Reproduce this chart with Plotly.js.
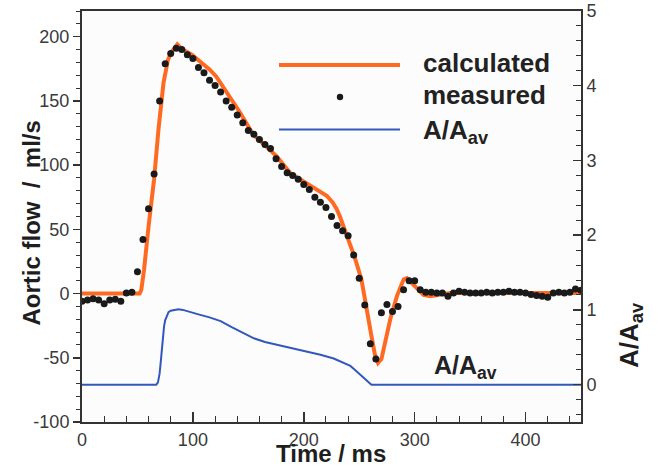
<!DOCTYPE html>
<html>
<head>
<meta charset="utf-8">
<script src="https://cdn.plot.ly/plotly-3.0.1.min.js"></script>
<style>html,body{margin:0;padding:0;background:#fff;}#chart{width:667px;height:466px;}</style>
</head>
<body>
<div id="chart"></div>
<script>
// Measured aortic flow (ml/s)
const measTime = [0,5,10,15,20,25,30,35,40,45,50,55,60,65,70,75,80,85,90,95,100,105,110,115,120,125,130,135,140,145,150,155,160,165,170,175,180,185,190,195,200,205,210,215,220,225,230,235,240,245,250,255,260,265,270,275,280,285,290,295,300,305,310,315,320,325,330,335,340,345,350,355,360,365,370,375,380,385,390,395,400,405,410,415,420,425,430,435,440,445,450];
const measFlow = [-6,-5,-4,-5,-8,-5,-4.5,-6,0.5,1,17,42,66,93,150,179,187,191,190,186,183,176,172,166,162,157,150,145,139,133,127,124,120,116,113,105,99,94,92,89,85,81,75,71,67,60,53,49,45,30,12,-9,-39,-51,-15,-8.6,-14,-10,3,10,10,3,1,1,0.5,0.5,-2,0.5,1.8,1,0.5,0.5,0.5,1,0.5,1,1,1.8,1,1,0.5,-0.8,-1.6,-2.1,-2.9,0.5,1,0.5,1,3.6,2.6];

// Calculated aortic flow (ml/s)
const calcTime = [0,52,53.5,56,60,65,69,73.5,77.5,81,86,90,99,108,115,121,127,133,142.5,154.5,166.5,175.6,187.6,202.6,214.6,221,226,229.5,232.6,236,241,246,252,256.7,261,264,267,270,273,278,284,290,293,299,304,308,314,323,332,450];
const calcFlow = [0,0,3,19,52,89,128,164,182,188.5,194,190.5,186,179.5,174.5,169,161.5,154,141,123.7,114.6,106.8,94,86,79.6,76,71,66,60,52,39.5,28,11,-10,-33,-47,-54,-51,-40,-20,-2,11,12,7,2,-1,-2,-1,0.5,0.5];

// Normalised area A/A_av (right axis)
const areaTime = [0,67,68.5,70,71,72,73,74,75,76.5,78,80,83,87,91,95,105,115,125,135,145,155,165,180,200,215,227,235,242,246,249,252,255,258,261,450];
const areaRatio = [0,0,0.03,0.15,0.3,0.48,0.65,0.78,0.86,0.93,0.97,0.99,1.0,1.01,1.0,0.98,0.94,0.9,0.85,0.77,0.69,0.62,0.57,0.52,0.45,0.40,0.35,0.30,0.25,0.2,0.16,0.12,0.08,0.04,0,0];

const flowTicks = [-100,-50,0,50,100,150,200];
const flowTickText = ['-100','-50','0','50','100','150','200'];
const legendLabels = ['calculated', 'measured', 'A/A<sub>av</sub>'];
const xTitle = 'Time / ms';
const yTitle = 'Aortic flow\u00a0\u00a0/\u00a0\u00a0ml/s';
const y2Title = 'A/A<sub>av</sub>';

const ORANGE = '#ff6a22';
const BLUE = '#3358bd';
const AXC = '#333333';
const FONT = 'Liberation Sans, Arial, Helvetica, sans-serif';

const traces = [
  {x: areaTime, y: areaRatio, yaxis: 'y2', type: 'scatter', mode: 'lines',
   line: {color: BLUE, width: 2, shape: 'linear'}, name: 'A/A_av', hoverinfo: 'skip'},
  {x: calcTime, y: calcFlow, type: 'scatter', mode: 'lines',
   line: {color: ORANGE, width: 4, shape: 'linear'}, name: 'calculated'},
  {x: measTime, y: measFlow, type: 'scatter', mode: 'markers',
   marker: {color: '#1a1a1a', size: 7}, name: 'measured'}
];

const tickFont = {family: FONT, size: 18, color: '#3a3a3a'};
const titleFont = {family: FONT, size: 24, color: '#1e1e1e', weight: 'bold'};

function px2paperY(py) { return (422 - py) / 411; }
function px2paperX(px) { return (px - 82) / 499; }

const layout = {
  width: 667, height: 466,
  margin: {l: 82, r: 86, t: 11, b: 44},
  paper_bgcolor: '#ffffff', plot_bgcolor: '#fcfcfc',
  showlegend: false,
  font: {family: FONT, color: AXC},
  xaxis: {
    range: [0, 450], tick0: 0, dtick: 100, ticks: 'inside', ticklen: 10, tickwidth: 1.5, tickcolor: AXC,
    showline: true, linewidth: 2, linecolor: AXC, mirror: true, showgrid: false, zeroline: false,
    tickfont: tickFont,
    minor: {dtick: 20, ticks: 'inside', ticklen: 6, tickwidth: 1, tickcolor: AXC, showgrid: false}
  },
  yaxis: {
    range: [-100, 220], tickmode: 'array', tickvals: flowTicks, ticktext: flowTickText,
    ticks: 'outside', ticklen: 7, tickwidth: 1.5, tickcolor: AXC,
    showline: true, linewidth: 2, linecolor: AXC, showgrid: false, zeroline: false,
    tickfont: tickFont,
    minor: {tickmode: 'linear', tick0: 0, dtick: 10, ticks: 'outside', ticklen: 4, tickwidth: 1, tickcolor: AXC, showgrid: false}
  },
  yaxis2: {
    overlaying: 'y', side: 'right', anchor: 'x',
    range: [-0.5, 5], tick0: 0, dtick: 1, ticks: 'inside', ticklen: 8, tickwidth: 1.5, tickcolor: AXC,
    showline: true, linewidth: 2, linecolor: AXC, showgrid: false, zeroline: false,
    tickfont: tickFont,
    minor: {dtick: 0.2, ticks: 'inside', ticklen: 5, tickwidth: 1, tickcolor: AXC, showgrid: false}
  },
  shapes: [
    {type: 'line', xref: 'paper', yref: 'paper', x0: px2paperX(279), x1: px2paperX(400),
     y0: px2paperY(65), y1: px2paperY(65), line: {color: ORANGE, width: 4}},
    {type: 'circle', xref: 'paper', yref: 'paper', xsizemode: 'pixel', ysizemode: 'pixel',
     xanchor: px2paperX(340), yanchor: px2paperY(97), x0: -3.2, x1: 3.2, y0: -3.2, y1: 3.2,
     fillcolor: '#1a1a1a', line: {width: 0}},
    {type: 'line', xref: 'paper', yref: 'paper', x0: px2paperX(279), x1: px2paperX(400),
     y0: px2paperY(129.5), y1: px2paperY(129.5), line: {color: BLUE, width: 2}}
  ],
  annotations: [
    {xref: 'paper', yref: 'paper', x: px2paperX(421), y: px2paperY(63), xanchor: 'left', yanchor: 'middle',
     text: legendLabels[0], showarrow: false, font: {family: FONT, size: 26, color: '#222', weight: 'bold'}},
    {xref: 'paper', yref: 'paper', x: px2paperX(421), y: px2paperY(95), xanchor: 'left', yanchor: 'middle',
     text: legendLabels[1], showarrow: false, font: {family: FONT, size: 26, color: '#222', weight: 'bold'}},
    {xref: 'paper', yref: 'paper', x: px2paperX(421), y: px2paperY(131), xanchor: 'left', yanchor: 'middle',
     text: legendLabels[2], showarrow: false, font: {family: FONT, size: 26, color: '#222', weight: 'bold'}},
    {xref: 'x', yref: 'y', x: 346, y: -57, xanchor: 'center', yanchor: 'middle',
     text: 'A/A<sub>av</sub>', showarrow: false, font: {family: FONT, size: 25, color: '#222', weight: 'bold'}},
    {xref: 'paper', yref: 'paper', x: px2paperX(331), y: px2paperY(453.5), xanchor: 'center', yanchor: 'middle',
     text: xTitle, showarrow: false, font: Object.assign({}, titleFont, {size: 24})},
    {xref: 'paper', yref: 'paper', x: 0, xshift: -51, y: 0.483, xanchor: 'center', yanchor: 'middle',
     textangle: -90, text: yTitle, showarrow: false, font: titleFont},
    {xref: 'paper', yref: 'paper', x: 1, xshift: 49, y: px2paperY(335), xanchor: 'center', yanchor: 'middle',
     textangle: -90, text: y2Title, showarrow: false, font: {family: FONT, size: 26, color: '#1e1e1e', weight: 'bold'}}
  ]
};

Plotly.newPlot('chart', traces, layout, {displayModeBar: false, staticPlot: true});
</script>
</body>
</html>
